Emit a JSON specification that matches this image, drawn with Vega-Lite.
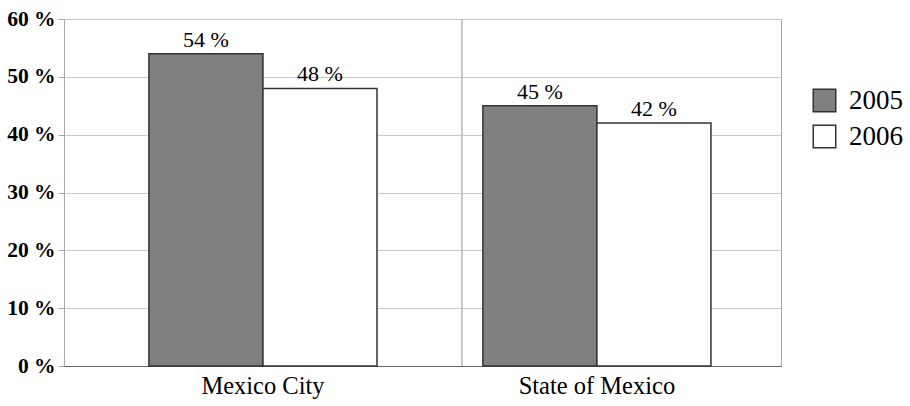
{
  "$schema": "https://vega.github.io/schema/vega-lite/v6.json",
  "width": 717,
  "height": 347,
  "autosize": {"type": "none"},
  "padding": {"left": 64, "top": 19, "right": 129, "bottom": 40},
  "background": "white",
  "config": {"view": {"stroke": "#a8a8a8"}, "font": "Liberation Serif"},
  "data": {
    "values": [
      {"region": "Mexico City", "year": "2005", "value": 54, "label": "54 %"},
      {"region": "Mexico City", "year": "2006", "value": 48, "label": "48 %"},
      {"region": "State of Mexico", "year": "2005", "value": 45, "label": "45 %"},
      {"region": "State of Mexico", "year": "2006", "value": 42, "label": "42 %"}
    ]
  },
  "layer": [
    {
      "mark": {"type": "rule", "color": "#c4c4c4", "strokeWidth": 1},
      "encoding": {
        "x": {
          "datum": "State of Mexico",
          "type": "nominal",
          "bandPosition": -0.092,
          "scale": {"domain": ["Mexico City", "State of Mexico"], "paddingInner": 0.317, "paddingOuter": 0.232, "align": 0.548},
          "axis": {
            "title": null,
            "labelAngle": 0,
            "labelFont": "Liberation Serif",
            "labelFontSize": 24.5,
            "labelColor": "#000",
            "ticks": false,
            "domainColor": "#666666",
            "domainWidth": 1.2,
            "labelPadding": 8,
            "grid": false
          }
        }
      }
    },
    {
      "mark": {"type": "bar", "stroke": "#333333", "strokeWidth": 1.5},
      "encoding": {
        "x": {"field": "region", "type": "nominal", "sort": null},
        "xOffset": {"field": "year", "type": "nominal", "scale": {"paddingInner": 0, "paddingOuter": 0}},
        "y": {
          "field": "value",
          "type": "quantitative",
          "scale": {"domain": [0, 60], "nice": false},
          "axis": {
            "values": [0, 10, 20, 30, 40, 50, 60],
            "labelExpr": "datum.value + ' %'",
            "labelFont": "Liberation Serif",
            "labelFontWeight": "bold",
            "labelFontSize": 21.5,
            "labelColor": "#000",
            "title": null,
            "domainColor": "#a8a8a8",
            "tickColor": "#a8a8a8",
            "tickSize": 6,
            "labelPadding": 3,
            "gridColor": "#c8c8c8"
          }
        },
        "fill": {
          "field": "year",
          "type": "nominal",
          "scale": {"domain": ["2005", "2006"], "range": ["#808080", "#ffffff"]},
          "legend": {
            "title": null,
            "orient": "none",
            "legendX": 747,
            "legendY": 68,
            "symbolType": "square",
            "symbolSize": 506,
            "symbolStrokeColor": "#333333",
            "symbolStrokeWidth": 1.5,
            "labelFont": "Liberation Serif",
            "labelFontSize": 27,
            "labelColor": "#000",
            "rowPadding": 7,
            "labelOffset": 11
          }
        }
      }
    },
    {
      "mark": {"type": "text", "baseline": "bottom", "dy": -2, "fontSize": 22, "font": "Liberation Serif", "color": "#000"},
      "encoding": {
        "x": {"field": "region", "type": "nominal", "sort": null},
        "xOffset": {"field": "year", "type": "nominal"},
        "y": {"field": "value", "type": "quantitative"},
        "text": {"field": "label"}
      }
    }
  ]
}
